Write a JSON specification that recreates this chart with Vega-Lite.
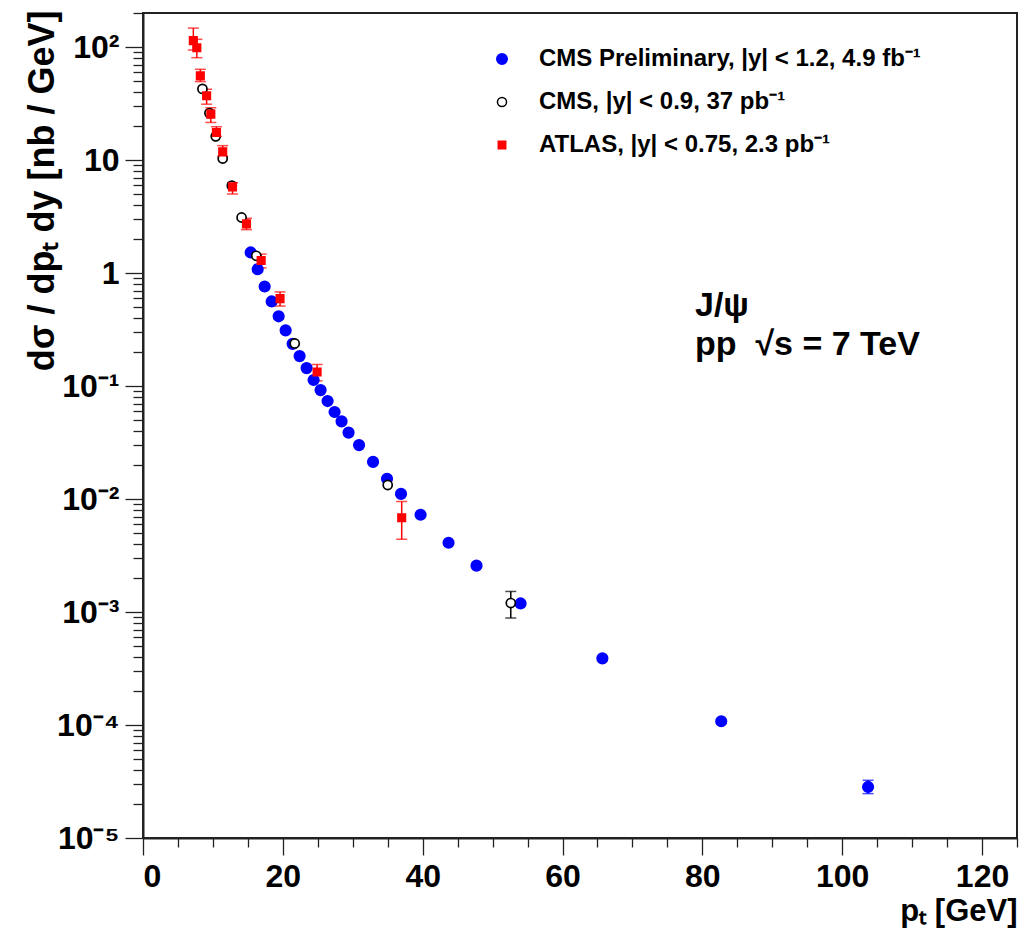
{
  "$schema": "https://vega.github.io/schema/vega-lite/v6.json",
  "width": 874,
  "height": 825,
  "autosize": {"type": "none"},
  "padding": {"left": 143, "top": 13, "right": 3, "bottom": 103},
  "background": "white",
  "config": {
    "view": {"stroke": "#222222", "strokeWidth": 2},
    "font": "Liberation Sans",
    "axis": {
      "domainColor": "#222222", "domainWidth": 2, "tickColor": "#222222", "tickWidth": 1.3,
      "grid": false, "labelColor": "#000000", "titleColor": "#000000",
      "labelFont": "Liberation Sans", "titleFont": "Liberation Sans",
      "labelFontWeight": "bold", "titleFontWeight": "bold"
    },
    "legend": {
      "orient": "none", "legendX": 347, "legendY": 34, "padding": 0,
      "labelFont": "Liberation Sans", "labelFontSize": 24, "labelFontWeight": "bold", "labelColor": "#000000", "labelLimit": 700,
      "labelOffset": 25, "rowPadding": 19, "symbolStrokeWidth": 1.5
    }
  },
  "datasets": {
    "pts": [
      {"s": "CMS Preliminary, |y| < 1.2, 4.9 fb⁻¹", "pt": 15.4, "xs": 1.52},
      {"s": "CMS Preliminary, |y| < 1.2, 4.9 fb⁻¹", "pt": 16.4, "xs": 1.08},
      {"s": "CMS Preliminary, |y| < 1.2, 4.9 fb⁻¹", "pt": 17.4, "xs": 0.76},
      {"s": "CMS Preliminary, |y| < 1.2, 4.9 fb⁻¹", "pt": 18.4, "xs": 0.56},
      {"s": "CMS Preliminary, |y| < 1.2, 4.9 fb⁻¹", "pt": 19.4, "xs": 0.414},
      {"s": "CMS Preliminary, |y| < 1.2, 4.9 fb⁻¹", "pt": 20.4, "xs": 0.311},
      {"s": "CMS Preliminary, |y| < 1.2, 4.9 fb⁻¹", "pt": 21.4, "xs": 0.236},
      {"s": "CMS Preliminary, |y| < 1.2, 4.9 fb⁻¹", "pt": 22.4, "xs": 0.184},
      {"s": "CMS Preliminary, |y| < 1.2, 4.9 fb⁻¹", "pt": 23.4, "xs": 0.144},
      {"s": "CMS Preliminary, |y| < 1.2, 4.9 fb⁻¹", "pt": 24.4, "xs": 0.113},
      {"s": "CMS Preliminary, |y| < 1.2, 4.9 fb⁻¹", "pt": 25.4, "xs": 0.092},
      {"s": "CMS Preliminary, |y| < 1.2, 4.9 fb⁻¹", "pt": 26.4, "xs": 0.0736},
      {"s": "CMS Preliminary, |y| < 1.2, 4.9 fb⁻¹", "pt": 27.4, "xs": 0.0589},
      {"s": "CMS Preliminary, |y| < 1.2, 4.9 fb⁻¹", "pt": 28.4, "xs": 0.0487},
      {"s": "CMS Preliminary, |y| < 1.2, 4.9 fb⁻¹", "pt": 29.4, "xs": 0.0387},
      {"s": "CMS Preliminary, |y| < 1.2, 4.9 fb⁻¹", "pt": 30.9, "xs": 0.03},
      {"s": "CMS Preliminary, |y| < 1.2, 4.9 fb⁻¹", "pt": 32.9, "xs": 0.0213},
      {"s": "CMS Preliminary, |y| < 1.2, 4.9 fb⁻¹", "pt": 34.9, "xs": 0.0151},
      {"s": "CMS Preliminary, |y| < 1.2, 4.9 fb⁻¹", "pt": 36.9, "xs": 0.0111},
      {"s": "CMS Preliminary, |y| < 1.2, 4.9 fb⁻¹", "pt": 39.7, "xs": 0.00726},
      {"s": "CMS Preliminary, |y| < 1.2, 4.9 fb⁻¹", "pt": 43.7, "xs": 0.0041},
      {"s": "CMS Preliminary, |y| < 1.2, 4.9 fb⁻¹", "pt": 47.7, "xs": 0.00257},
      {"s": "CMS Preliminary, |y| < 1.2, 4.9 fb⁻¹", "pt": 54.0, "xs": 0.00119},
      {"s": "CMS Preliminary, |y| < 1.2, 4.9 fb⁻¹", "pt": 65.7, "xs": 0.000389},
      {"s": "CMS Preliminary, |y| < 1.2, 4.9 fb⁻¹", "pt": 82.7, "xs": 0.000108},
      {"s": "CMS Preliminary, |y| < 1.2, 4.9 fb⁻¹", "pt": 103.7, "xs": 0.0000283, "lo": 0.0000247, "hi": 0.0000324},
      {"s": "CMS, |y| < 0.9, 37 pb⁻¹", "pt": 8.5, "xs": 42.6},
      {"s": "CMS, |y| < 0.9, 37 pb⁻¹", "pt": 9.5, "xs": 26},
      {"s": "CMS, |y| < 0.9, 37 pb⁻¹", "pt": 10.4, "xs": 16.2},
      {"s": "CMS, |y| < 0.9, 37 pb⁻¹", "pt": 11.4, "xs": 10.3},
      {"s": "CMS, |y| < 0.9, 37 pb⁻¹", "pt": 12.7, "xs": 5.93},
      {"s": "CMS, |y| < 0.9, 37 pb⁻¹", "pt": 14.1, "xs": 3.1},
      {"s": "CMS, |y| < 0.9, 37 pb⁻¹", "pt": 16.2, "xs": 1.42},
      {"s": "CMS, |y| < 0.9, 37 pb⁻¹", "pt": 21.7, "xs": 0.238},
      {"s": "CMS, |y| < 0.9, 37 pb⁻¹", "pt": 35.0, "xs": 0.0133},
      {"s": "CMS, |y| < 0.9, 37 pb⁻¹", "pt": 52.6, "xs": 0.0012, "lo": 0.000885, "hi": 0.00152},
      {"s": "ATLAS, |y| < 0.75, 2.3 pb⁻¹", "pt": 7.2, "xs": 114, "lo": 94, "hi": 147},
      {"s": "ATLAS, |y| < 0.75, 2.3 pb⁻¹", "pt": 7.7, "xs": 98.6, "lo": 80.5, "hi": 117},
      {"s": "ATLAS, |y| < 0.75, 2.3 pb⁻¹", "pt": 8.2, "xs": 55.5, "lo": 49.4, "hi": 63.5},
      {"s": "ATLAS, |y| < 0.75, 2.3 pb⁻¹", "pt": 9.1, "xs": 37, "lo": 31.2, "hi": 42.3},
      {"s": "ATLAS, |y| < 0.75, 2.3 pb⁻¹", "pt": 9.7, "xs": 25.5, "lo": 21.5, "hi": 29},
      {"s": "ATLAS, |y| < 0.75, 2.3 pb⁻¹", "pt": 10.5, "xs": 17.5, "lo": 16.2, "hi": 19.7},
      {"s": "ATLAS, |y| < 0.75, 2.3 pb⁻¹", "pt": 11.4, "xs": 11.8, "lo": 10.8, "hi": 13.4},
      {"s": "ATLAS, |y| < 0.75, 2.3 pb⁻¹", "pt": 12.8, "xs": 5.78, "lo": 5.0, "hi": 6.3},
      {"s": "ATLAS, |y| < 0.75, 2.3 pb⁻¹", "pt": 14.8, "xs": 2.72, "lo": 2.42, "hi": 3.05},
      {"s": "ATLAS, |y| < 0.75, 2.3 pb⁻¹", "pt": 16.9, "xs": 1.29, "lo": 1.11, "hi": 1.47},
      {"s": "ATLAS, |y| < 0.75, 2.3 pb⁻¹", "pt": 19.6, "xs": 0.593, "lo": 0.51, "hi": 0.68},
      {"s": "ATLAS, |y| < 0.75, 2.3 pb⁻¹", "pt": 24.9, "xs": 0.133, "lo": 0.111, "hi": 0.155},
      {"s": "ATLAS, |y| < 0.75, 2.3 pb⁻¹", "pt": 37.0, "xs": 0.00683, "lo": 0.0044, "hi": 0.0095}
    ]
  },
  "layer": [
    {
      "data": {"name": "pts"},
      "mark": {"type": "point", "opacity": 0},
      "encoding": {
        "x": {"field": "pt", "type": "quantitative",
          "scale": {"domain": [0, 125], "nice": false, "zero": false},
          "axis": {"orient": "bottom", "values": [5,10,15,25,30,35,45,50,55,65,70,75,85,90,95,105,110,115,125], "labels": false, "tickSize": 9, "domain": false, "title": null}},
        "y": {"field": "xs", "type": "quantitative",
          "scale": {"type": "log", "domain": [0.00001, 200], "nice": false},
          "axis": {"orient": "left", "values": [0.00002,0.00003,0.00004,0.00005,0.00006,0.00007,0.00008,0.00009,0.0002,0.0003,0.0004,0.0005,0.0006,0.0007,0.0008,0.0009,0.002,0.003,0.004,0.005,0.006,0.007,0.008,0.009,0.02,0.03,0.04,0.05,0.06,0.07,0.08,0.09,0.2,0.3,0.4,0.5,0.6,0.7,0.8,0.9,2,3,4,5,6,7,8,9,20,30,40,50,60,70,80,90,200], "labels": false, "tickSize": 10, "domain": false, "title": null}}
      }
    },
    {
      "data": {"name": "pts"},
      "transform": [{"filter": "isValid(datum.lo) && indexof(datum.s, 'CMS P') == 0"}],
      "mark": {"type": "errorbar", "color": "#0000ff", "ticks": {"size": 11, "thickness": 1.5}, "rule": {"strokeWidth": 1.5}},
      "encoding": {
        "x": {"field": "pt", "type": "quantitative", "scale": {"domain": [0, 125], "nice": false, "zero": false}, "axis": null},
        "y": {"field": "lo", "type": "quantitative", "scale": {"type": "log", "domain": [0.00001, 200], "nice": false}, "axis": null},
        "y2": {"field": "hi"}
      }
    },
    {
      "data": {"name": "pts"},
      "transform": [{"filter": "isValid(datum.lo) && indexof(datum.s, 'CMS,') == 0"}],
      "mark": {"type": "errorbar", "color": "#000000", "ticks": {"size": 11, "thickness": 1.5}, "rule": {"strokeWidth": 1.5}},
      "encoding": {
        "x": {"field": "pt", "type": "quantitative", "scale": {"domain": [0, 125], "nice": false, "zero": false}, "axis": null},
        "y": {"field": "lo", "type": "quantitative", "scale": {"type": "log", "domain": [0.00001, 200], "nice": false}, "axis": null},
        "y2": {"field": "hi"}
      }
    },
    {
      "data": {"name": "pts"},
      "transform": [{"filter": "isValid(datum.lo) && indexof(datum.s, 'ATLAS') == 0"}],
      "mark": {"type": "errorbar", "color": "#ff0000", "ticks": {"size": 11, "thickness": 1.5}, "rule": {"strokeWidth": 1.5}},
      "encoding": {
        "x": {"field": "pt", "type": "quantitative", "scale": {"domain": [0, 125], "nice": false, "zero": false}, "axis": null},
        "y": {"field": "lo", "type": "quantitative", "scale": {"type": "log", "domain": [0.00001, 200], "nice": false}, "axis": null},
        "y2": {"field": "hi"}
      }
    },
    {
      "data": {"name": "pts"},
      "mark": {"type": "point", "filled": true, "opacity": 1, "strokeWidth": 1.7},
      "encoding": {
        "x": {"field": "pt", "type": "quantitative",
          "scale": {"domain": [0, 125], "nice": false, "zero": false},
          "axis": {"orient": "bottom", "values": [0, 20, 40, 60, 80, 100, 120], "tickSize": 17, "labelFontSize": 32, "labelPadding": 6,
            "title": "pₜ [GeV]", "titleFontSize": 31, "titleAlign": "right", "titleAnchor": "end", "titleX": 874, "titleY": 82, "titleBaseline": "alphabetic"}},
        "y": {"field": "xs", "type": "quantitative",
          "scale": {"type": "log", "domain": [0.00001, 200], "nice": false},
          "axis": {"orient": "left", "values": [0.00001, 0.0001, 0.001, 0.01, 0.1, 1, 10, 100], "tickSize": 18, "labelFontSize": 32, "labelPadding": 6,
            "labelExpr": "datum.value > 50 ? '10²' : datum.value > 5 ? '10' : datum.value > 0.5 ? '1' : datum.value > 0.05 ? '10⁻¹' : datum.value > 0.005 ? '10⁻²' : datum.value > 0.0005 ? '10⁻³' : datum.value > 0.00005 ? '10⁻⁴' : '10⁻⁵'",
            "title": "dσ / dpₜ dy [nb / GeV]", "titleFontSize": 36, "titleAngle": 270, "titleAlign": "right", "titleBaseline": "alphabetic", "titleX": -90, "titleY": -3}},
        "shape": {"field": "s", "type": "nominal",
          "scale": {"domain": ["CMS Preliminary, |y| < 1.2, 4.9 fb⁻¹", "CMS, |y| < 0.9, 37 pb⁻¹", "ATLAS, |y| < 0.75, 2.3 pb⁻¹"], "range": ["circle", "circle", "square"]},
          "legend": {"title": null}},
        "fill": {"field": "s", "type": "nominal",
          "scale": {"domain": ["CMS Preliminary, |y| < 1.2, 4.9 fb⁻¹", "CMS, |y| < 0.9, 37 pb⁻¹", "ATLAS, |y| < 0.75, 2.3 pb⁻¹"], "range": ["#0000ff", "#ffffff", "#ff0000"]},
          "legend": {"title": null}},
        "size": {"field": "s", "type": "nominal",
          "scale": {"domain": ["CMS Preliminary, |y| < 1.2, 4.9 fb⁻¹", "CMS, |y| < 0.9, 37 pb⁻¹", "ATLAS, |y| < 0.75, 2.3 pb⁻¹"], "range": [110, 55, 36]},
          "legend": {"title": null}},
        "stroke": {"field": "s", "type": "nominal",
          "scale": {"domain": ["CMS Preliminary, |y| < 1.2, 4.9 fb⁻¹", "CMS, |y| < 0.9, 37 pb⁻¹", "ATLAS, |y| < 0.75, 2.3 pb⁻¹"], "range": ["#0000ff", "#000000", "#ff0000"]},
          "legend": {"title": null}}
      }
    },
    {
      "data": {"values": [{"t": "J/ψ"}]},
      "mark": {"type": "text", "align": "left", "baseline": "alphabetic", "fontSize": 34, "fontWeight": "bold", "font": "Liberation Sans", "color": "#000000"},
      "encoding": {
        "x": {"datum": 78.95, "type": "quantitative", "scale": {"domain": [0, 125], "nice": false, "zero": false}, "axis": null},
        "y": {"datum": 0.417, "type": "quantitative", "scale": {"type": "log", "domain": [0.00001, 200], "nice": false}, "axis": null},
        "text": {"field": "t"}
      }
    },
    {
      "data": {"values": [{"t": "pp\u00a0\u00a0√s = 7 TeV"}]},
      "mark": {"type": "text", "align": "left", "baseline": "alphabetic", "fontSize": 34, "fontWeight": "bold", "font": "Liberation Sans", "color": "#000000"},
      "encoding": {
        "x": {"datum": 78.95, "type": "quantitative", "scale": {"domain": [0, 125], "nice": false, "zero": false}, "axis": null},
        "y": {"datum": 0.188, "type": "quantitative", "scale": {"type": "log", "domain": [0.00001, 200], "nice": false}, "axis": null},
        "text": {"field": "t"}
      }
    }
  ],
  "resolve": {"axis": {"x": "independent", "y": "independent"}}
}
